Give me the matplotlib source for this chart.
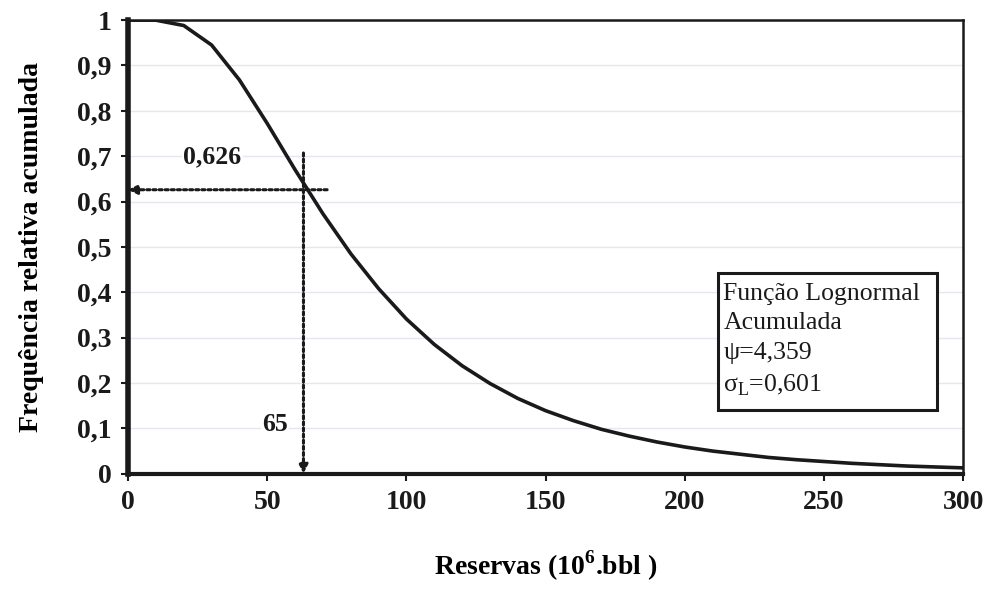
import matplotlib.pyplot as plt
from matplotlib.patches import Rectangle

# curve (points every 10 units)
reservas = [0, 10, 20, 30, 40, 50, 60, 70, 80, 90, 100, 110, 120, 130, 140, 150,
            160, 170, 180, 190, 200, 210, 220, 230, 240, 250, 260, 270, 280, 290, 300]
freq = [1.0, 0.9997, 0.988, 0.945, 0.868, 0.772, 0.670, 0.573, 0.485, 0.408, 0.341,
        0.285, 0.238, 0.199, 0.166, 0.139, 0.117, 0.098, 0.083, 0.070, 0.059,
        0.050, 0.043, 0.036, 0.031, 0.027, 0.023, 0.020, 0.017, 0.015, 0.013]

x_ref = 63
y_ref = 0.626
x_ticks = [0, 50, 100, 150, 200, 250, 300]
y_ticks = [0, 0.1, 0.2, 0.3, 0.4, 0.5, 0.6, 0.7, 0.8, 0.9, 1.0]
y_labels = ['0', '0,1', '0,2', '0,3', '0,4', '0,5', '0,6', '0,7', '0,8', '0,9', '1']

plt.rcParams['font.family'] = ['Liberation Serif', 'DejaVu Serif']
ink = '#1a1a1a'

fig = plt.figure(figsize=(9.85, 5.9), dpi=100)
ax = fig.add_axes([0.130, 0.197, 0.848, 0.769])

ax.plot(reservas, freq, color=ink, lw=2.6, zorder=3)

# dotted guide arrows
ax.annotate('', xy=(0, y_ref), xytext=(71.5, y_ref),
            arrowprops=dict(arrowstyle='-|>', color=ink, lw=2.2,
                            linestyle=(0, (1, 1)), mutation_scale=13,
                            shrinkA=0, shrinkB=0), zorder=4)
ax.annotate('', xy=(x_ref, 0), xytext=(x_ref, 0.707),
            arrowprops=dict(arrowstyle='-|>', color=ink, lw=2.2,
                            linestyle=(0, (1, 1)), mutation_scale=13,
                            shrinkA=0, shrinkB=0), zorder=4)
ax.text(30.3, 0.698, '0,626', fontsize=18.5, fontweight='bold', ha='center', va='center',
        color=ink, bbox=dict(fc='white', ec='none', pad=1), zorder=5)
ax.text(52.7, 0.108, '65', fontsize=18.5, fontweight='bold', ha='center', va='center',
        color=ink, bbox=dict(fc='white', ec='none', pad=1), zorder=5)

# legend-like text box
ax.add_patch(Rectangle((211.8, 0.141), 78.9, 0.302, fc='white', ec=ink, lw=2.2, zorder=5))
ax.text(213.8, 0.294,
        'Função Lognormal\nAcumulada\nψ=4,359\nσ$_{\\mathregular{L}}$=0,601',
        fontsize=18.5, ha='left', va='center', color=ink, linespacing=1.44, zorder=6)

ax.set_xlim(0, 300)
ax.set_ylim(0, 1)
ax.set_xticks(x_ticks)
ax.set_xticklabels([str(t) for t in x_ticks], fontsize=20, fontweight='bold')
ax.set_yticks(y_ticks)
ax.set_yticklabels(y_labels, fontsize=20, fontweight='bold')
ax.tick_params(direction='out', length=5, width=1.5, colors=ink, pad=7)
ax.grid(axis='y', color='#e6e6f0', lw=1)
ax.set_axisbelow(True)

for s in ['top', 'right']:
    ax.spines[s].set_linewidth(1.8)
ax.spines['left'].set_linewidth(4)
ax.spines['bottom'].set_linewidth(3)
for s in ax.spines.values():
    s.set_color(ink)

ax.set_xlabel('Reservas (10$^{\\mathregular{6}}$.bbl )', fontsize=20, fontweight='bold',
              labelpad=24)
ax.set_ylabel('Frequência relativa acumulada', fontsize=20, fontweight='bold', labelpad=24)

fig.savefig('out.png', dpi=100)
